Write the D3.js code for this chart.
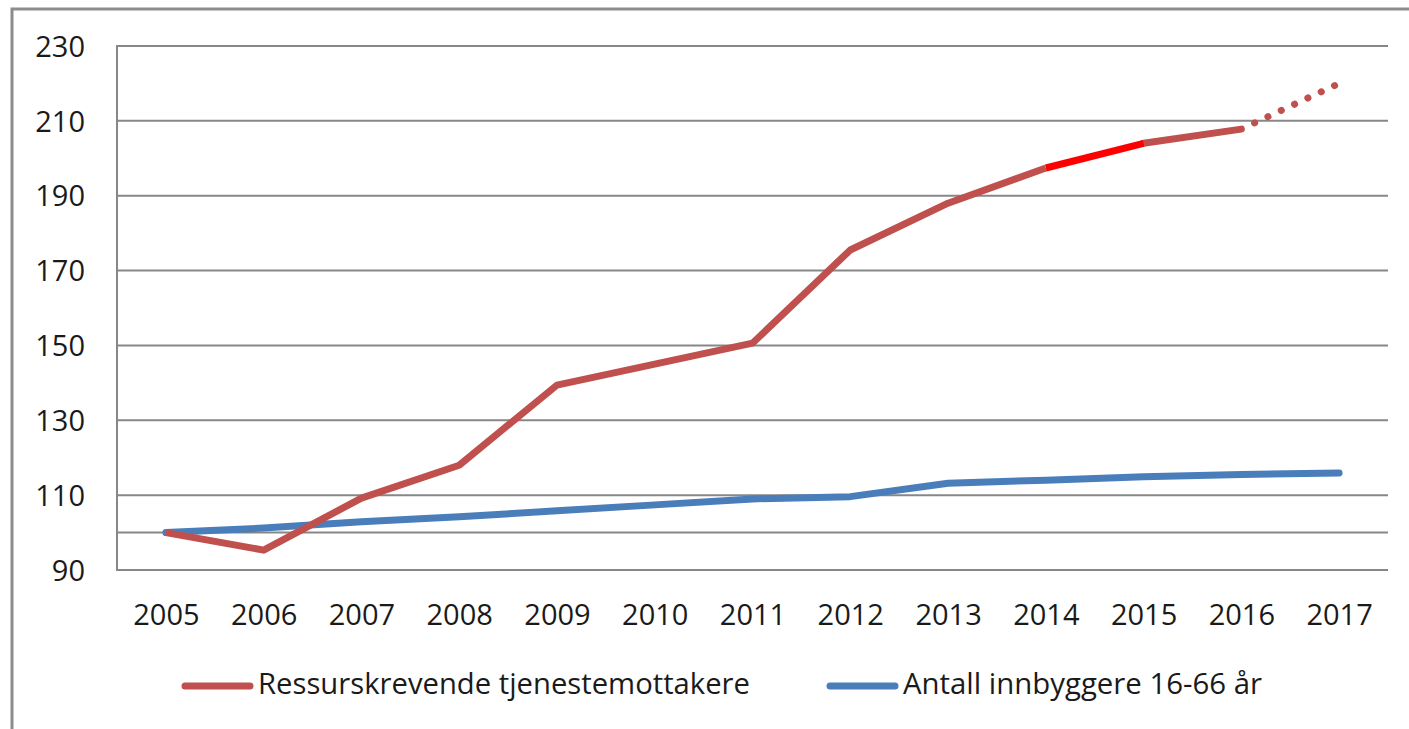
<!DOCTYPE html>
<html>
<head>
<meta charset="utf-8">
<script src="https://cdn.jsdelivr.net/npm/d3@7"></script>
<style>
  body { margin: 0; background: #fff; }
  text { font-family: "Open Sans", sans-serif; fill: #1a1a1a; }
</style>
</head>
<body>
<svg id="chart" width="1409" height="729"></svg>
<script>
// data
var years = ["2005", "2006", "2007", "2008", "2009", "2010", "2011", "2012", "2013", "2014", "2015", "2016", "2017"];
var ressurs = [100, 95.3, 109.2, 118, 139.4, 145, 150.6, 175.5, 188, 197.4, 204, 207.8, 220];
var innbyggere = [100, 101.2, 102.9, 104.2, 105.8, 107.4, 109, 109.6, 113.2, 114, 114.9, 115.5, 115.9];
var yTicks = [90, 110, 130, 150, 170, 190, 210, 230];
var extraGrid = [100];
var seriesNames = ["Ressurskrevende tjenestemottakere", "Antall innbyggere 16-66 år"];

var colRed = "#c0504d", colBright = "#ff0000", colBlue = "#4a7ebb", colGrid = "#878787";

var svg = d3.select("#chart");

// outer frame
svg.append("rect")
  .attr("x", 12).attr("y", 9)
  .attr("width", 1420).attr("height", 760)
  .attr("fill", "none").attr("stroke", "#8c8c8c").attr("stroke-width", 3);

var plotL = 117, plotR = 1388, plotT = 46, plotB = 570;

var x = d3.scalePoint().domain(years).range([plotL, plotR]).padding(0.5);
var y = d3.scaleLinear().domain([90, 230]).range([plotB, plotT]);

// gridlines
svg.append("g").selectAll("line")
  .data(yTicks.concat(extraGrid))
  .enter().append("line")
  .attr("x1", plotL).attr("x2", plotR)
  .attr("y1", function (d) { return y(d); })
  .attr("y2", function (d) { return y(d); })
  .attr("stroke", colGrid).attr("stroke-width", 2);

svg.append("line")
  .attr("x1", plotL).attr("x2", plotL)
  .attr("y1", plotT - 1).attr("y2", plotB + 1)
  .attr("stroke", colGrid).attr("stroke-width", 2);

// y labels
var yAxis = d3.axisLeft(y).tickValues(yTicks).tickSize(0).tickPadding(0);
var gy = svg.append("g").attr("transform", "translate(85,0)").call(yAxis);
gy.select(".domain").remove();
gy.selectAll("text")
  .attr("font-size", 29).attr("font-family", "Open Sans").attr("fill", "#1a1a1a")
  .attr("dy", "0.35em");

// x labels
var xAxis = d3.axisBottom(x).tickSize(0).tickPadding(0);
var gx = svg.append("g").attr("transform", "translate(0,625)").call(xAxis);
gx.select(".domain").remove();
gx.selectAll("text")
  .attr("font-size", 29).attr("font-family", "Open Sans").attr("fill", "#1a1a1a")
  .attr("dy", 0);

var line = d3.line()
  .x(function (d) { return x(d.year); })
  .y(function (d) { return y(d.v); });

function pts(arr, from, to) {
  var out = [];
  for (var i = from; i <= to; i++) out.push({ year: years[i], v: arr[i] });
  return out;
}

// blue series
svg.append("path")
  .attr("d", line(pts(innbyggere, 0, 12)))
  .attr("fill", "none").attr("stroke", colBlue).attr("stroke-width", 7)
  .attr("stroke-linejoin", "round").attr("stroke-linecap", "round");

// red series, split in pieces
svg.append("path")
  .attr("d", line(pts(ressurs, 0, 9)))
  .attr("fill", "none").attr("stroke", colRed).attr("stroke-width", 7)
  .attr("stroke-linejoin", "round").attr("stroke-linecap", "butt");
svg.append("path")
  .attr("d", line(pts(ressurs, 10, 11)))
  .attr("fill", "none").attr("stroke", colRed).attr("stroke-width", 7)
  .attr("stroke-linejoin", "round").attr("stroke-linecap", "round");
svg.append("path")
  .attr("d", line(pts(ressurs, 9, 10)))
  .attr("fill", "none").attr("stroke", colBright).attr("stroke-width", 7)
  .attr("stroke-linecap", "butt");
svg.append("path")
  .attr("d", line(pts(ressurs, 11, 12)))
  .attr("fill", "none").attr("stroke", colRed).attr("stroke-width", 7)
  .attr("stroke-linecap", "round").attr("stroke-dasharray", "0.1 14.6")
  .attr("stroke-dashoffset", -14.6);

// legend
var legend = [
  { name: seriesNames[0], color: colRed, x0: 182, len: 492 },
  { name: seriesNames[1], color: colBlue, x0: 827, len: 359 }
];
var lg = svg.append("g").selectAll("g").data(legend).enter().append("g");
lg.append("line")
  .attr("x1", function (d) { return d.x0 + 3; })
  .attr("x2", function (d) { return d.x0 + 68; })
  .attr("y1", 686).attr("y2", 686)
  .attr("stroke", function (d) { return d.color; })
  .attr("stroke-width", 7).attr("stroke-linecap", "round");
lg.append("text")
  .attr("x", function (d) { return d.x0 + 76; })
  .attr("y", 694)
  .attr("font-size", 29)
  .attr("textLength", function (d) { return d.len; })
  .attr("lengthAdjust", "spacingAndGlyphs")
  .text(function (d) { return d.name; });
</script>
</body>
</html>
